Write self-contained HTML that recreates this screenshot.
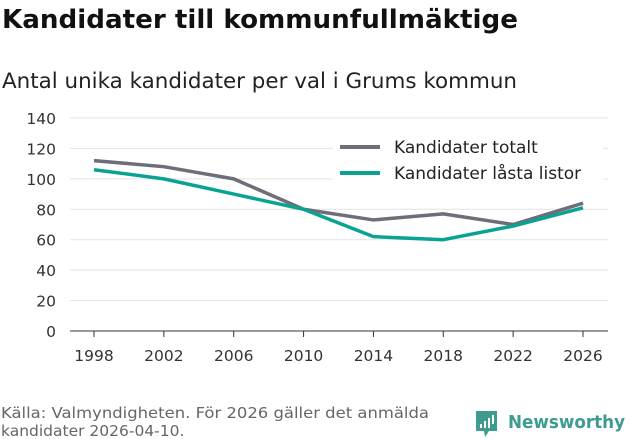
<!DOCTYPE html>
<html><head><meta charset="utf-8"><style>
body{margin:0;background:#fff;font-family:"DejaVu Sans","Liberation Sans",sans-serif;}
#wrap{position:relative;width:631px;height:439px;overflow:hidden;}
</style></head><body>
<div id="wrap">
<svg id="svg" width="631" height="439">
<text x="2" y="28" font-size="25.5" font-weight="bold" fill="#111" textLength="516" lengthAdjust="spacingAndGlyphs">Kandidater till kommunfullmäktige</text>
<text x="2" y="88" font-size="21" fill="#222" textLength="515" lengthAdjust="spacingAndGlyphs">Antal unika kandidater per val i Grums kommun</text>
<g id="grid"></g><g id="lines"></g>
<g>
<rect x="333" y="131" width="270" height="58" fill="#fff"/>
<line x1="340" y1="147" x2="380" y2="147" stroke="#6e6d78" stroke-width="4"/>
<text x="394" y="153" font-size="17" fill="#222">Kandidater totalt</text>
<line x1="340" y1="173" x2="380" y2="173" stroke="#0aa393" stroke-width="4"/>
<text x="394" y="179" font-size="17" fill="#222">Kandidater låsta listor</text>
</g>
<text x="1" y="418" font-size="15.5" fill="#666" textLength="428" lengthAdjust="spacingAndGlyphs">Källa: Valmyndigheten. För 2026 gäller det anmälda</text>
<text x="1" y="436" font-size="15.5" fill="#666">kandidater 2026-04-10.</text>
<g>
<path d="M476 411 h21 v20 h-8 l-4 6 l-1 -6 h-8 z" fill="#3e9b8f"/>
<rect x="480" y="424" width="2" height="4" fill="#fff"/><rect x="484" y="421" width="2" height="7" fill="#fff"/><rect x="488" y="418" width="2" height="10" fill="#fff"/><rect x="492" y="415" width="2" height="9" fill="#fff"/>
<text x="508" y="428" font-size="18" font-weight="bold" fill="#3e9b8f" textLength="117" lengthAdjust="spacingAndGlyphs">Newsworthy</text>
</g>
</svg>
</div>
<script>
const years=[1998,2002,2006,2010,2014,2018,2022,2026];
const totalt=[112,108,100,80,73,77,70,84];
const lasta=[106,100,90,80,62,60,69,81];
const yTicks=[0,20,40,60,80,100,120,140];
const NS="http://www.w3.org/2000/svg";
const x=v=>94+(v-1998)/(2026-1998)*489;
const y=v=>331-v/140*213;
const grid=document.getElementById('grid'),lines=document.getElementById('lines');
function mk(t,a,p){const e=document.createElementNS(NS,t);for(const k in a)e.setAttribute(k,a[k]);p.appendChild(e);return e;}
yTicks.forEach(t=>{
 const l=mk('line',{x1:70,x2:608,y1:y(t),y2:y(t),stroke:t===0?'#333':'#e3e3e3','stroke-width':1},grid);
 
 
 const tx=mk('text',{x:56,y:y(t)+6,'font-size':15.5,fill:'#333','text-anchor':'end'},grid);tx.textContent=t;
 
 
});
years.forEach(yr=>{
 const k=mk('line',{x1:x(yr),x2:x(yr),y1:331,y2:337,stroke:'#333'},grid);
 
 
 const tx=mk('text',{x:x(yr),y:361,'font-size':15.5,fill:'#333','text-anchor':'middle'},grid);tx.textContent=yr;
 
 
});
function line(d,c,n){const p=mk('polyline',{points:d.map((v,i)=>x(years[i])+','+y(v)).join(' '),fill:'none',stroke:c,'stroke-width':3.5,'stroke-linejoin':'round'},lines);
 
 }
line(totalt,'#6e6d78','line-totalt');
line(lasta,'#0aa393','line-lasta-listor');
</script>
</body></html>
